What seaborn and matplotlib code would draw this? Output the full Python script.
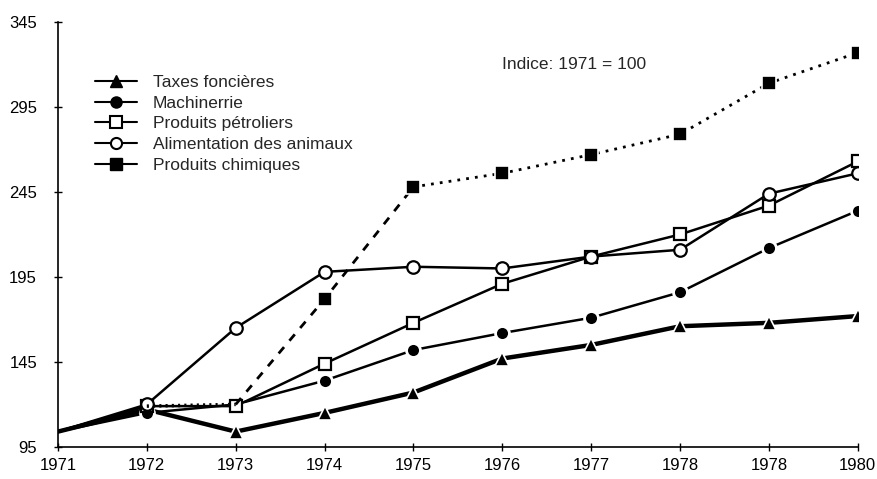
import matplotlib
matplotlib.use("Agg")
import matplotlib.pyplot as plt
from matplotlib.lines import Line2D
import seaborn as sns

# -------------------------
# données
# -------------------------

annees = ["1971", "1972", "1973", "1974", "1975", "1976", "1977", "1978", "1978", "1980"]

taxes_foncieres = [104, 117, 104, 115, 127, 147, 155, 166, 168, 172]
machinerrie = [104, 115, 120, 134, 152, 162, 171, 186, 212, 234]
produits_petroliers = [104, 119, 119, 144, 168, 191, 207, 220, 237, 263]
alimentation_animaux = [104, 120, 165, 198, 201, 200, 207, 211, 244, 256]
produits_chimiques = [104, 119, 120, 182, 248, 256, 267, 279, 309, 327]

etiquettes = [
    "Taxes foncières",
    "Machinerrie",
    "Produits pétroliers",
    "Alimentation des animaux",
    "Produits chimiques",
]

sns.set_theme(style="ticks")
plt.rcParams["font.family"] = ["Liberation Sans", "DejaVu Sans"]
plt.rcParams["axes.unicode_minus"] = False

fig = plt.figure(figsize=(8.78, 4.79), dpi=100)
ax = fig.add_axes([0.066, 0.067, 0.911, 0.887])

pos = list(range(len(annees)))
sans_1971 = list(range(1, len(annees)))

# Taxes foncières : trait épais
sns.lineplot(x=pos, y=taxes_foncieres, ax=ax, color="black", linewidth=3.2,
             marker="^", markersize=10, markerfacecolor="black",
             markeredgecolor="white", markeredgewidth=1.2, markevery=sans_1971)

# Machinerrie
sns.lineplot(x=pos, y=machinerrie, ax=ax, color="black", linewidth=1.8,
             marker="o", markersize=10, markerfacecolor="black",
             markeredgecolor="white", markeredgewidth=2, markevery=sans_1971)

# Produits pétroliers
sns.lineplot(x=pos, y=produits_petroliers, ax=ax, color="black", linewidth=1.8,
             marker="s", markersize=9, markerfacecolor="white",
             markeredgecolor="black", markeredgewidth=1.6, markevery=sans_1971)

# Alimentation des animaux
sns.lineplot(x=pos, y=alimentation_animaux, ax=ax, color="black", linewidth=1.8,
             marker="o", markersize=9, markerfacecolor="white",
             markeredgecolor="black", markeredgewidth=1.6, markevery=sans_1971)

# Produits chimiques : pointillé, tirets entre 1973 et 1975
sns.lineplot(x=pos[1:3], y=produits_chimiques[1:3], ax=ax, color="black",
             linewidth=2.5, linestyle=(0, (0.6, 1.2)))
sns.lineplot(x=pos[2:5], y=produits_chimiques[2:5], ax=ax, color="black",
             linewidth=2, linestyle=(0, (3, 3)))
sns.lineplot(x=pos[4:], y=produits_chimiques[4:], ax=ax, color="black",
             linewidth=2, linestyle=(0, (1, 2.2)))
sns.scatterplot(x=pos[3:], y=produits_chimiques[3:], ax=ax, color="black",
                marker="s", s=95, edgecolor="white", linewidth=1.2, zorder=5)

# -------------------------
# axes
# -------------------------

ax.set_xlim(0, 9)
ax.set_ylim(95, 345)
ax.set_xticks(pos)
ax.set_xticklabels(annees)
ax.set_yticks([95, 145, 195, 245, 295, 345])
ax.tick_params(axis="both", direction="inout", length=6, width=1,
               labelsize=12, colors="black")
ax.tick_params(axis="x", pad=5)
ax.tick_params(axis="y", pad=12)
for s in ["top", "right"]:
    ax.spines[s].set_visible(False)
for s in ["left", "bottom"]:
    ax.spines[s].set_color("black")
    ax.spines[s].set_linewidth(1.2)
ax.set_xlabel("")
ax.set_ylabel("")

ax.text(0.555, 0.9, "Indice: 1971 = 100", transform=ax.transAxes,
        fontsize=12.5, ha="left", va="center")

handles = [
    Line2D([], [], color="black", linewidth=1.5, marker="^", markersize=9,
           markerfacecolor="black", markeredgecolor="black"),
    Line2D([], [], color="black", linewidth=1.5, marker="o", markersize=8,
           markerfacecolor="black", markeredgecolor="black"),
    Line2D([], [], color="black", linewidth=1.5, marker="s", markersize=8,
           markerfacecolor="white", markeredgecolor="black", markeredgewidth=1.5),
    Line2D([], [], color="black", linewidth=1.5, marker="o", markersize=8,
           markerfacecolor="white", markeredgecolor="black", markeredgewidth=1.5),
    Line2D([], [], color="black", linewidth=1.5, marker="s", markersize=8,
           markerfacecolor="black", markeredgecolor="black"),
]
ax.legend(handles, etiquettes, loc="upper left", bbox_to_anchor=(0.038, 0.892),
          frameon=False, fontsize=12.5, handlelength=2.4, handletextpad=0.9,
          labelspacing=0.32, borderaxespad=0)

fig.savefig("out.png", dpi=100)
plt.close(fig)
